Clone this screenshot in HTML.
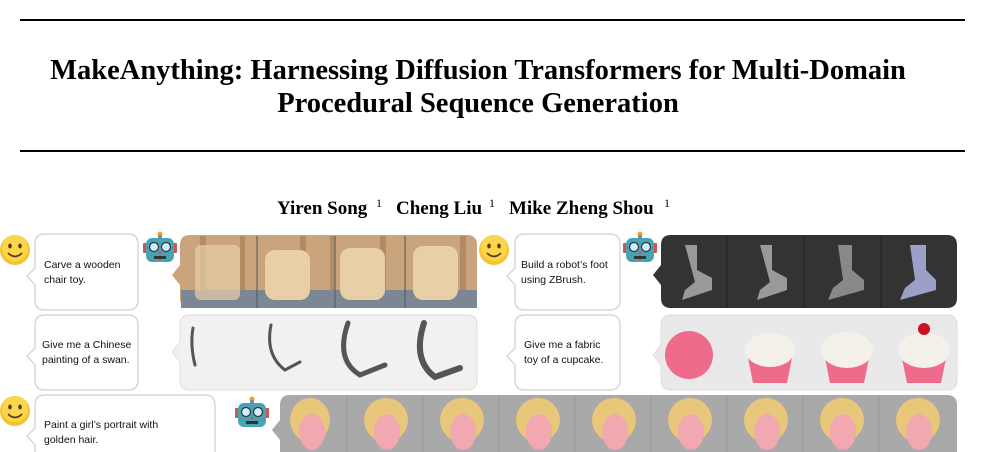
<!DOCTYPE html>
<html><head><meta charset="utf-8"><style>
body{margin:0;background:#fff;width:986px;height:452px;overflow:hidden}
svg{display:block}
.t{font-family:"Liberation Serif",serif;font-weight:bold;text-anchor:middle}
.a{font-family:"Liberation Serif",serif;font-weight:bold;font-size:19px}
.s{font-family:"Liberation Serif",serif;font-size:12px}
.b{font-family:"Liberation Sans",sans-serif;font-size:10.5px;fill:#111}
</style></head><body>
<svg width="986" height="452" viewBox="0 0 986 452" xmlns="http://www.w3.org/2000/svg">
<defs>
<g id="smile"><circle cx="0" cy="0" r="15" fill="#f6c431"/><circle cx="0" cy="-2" r="13" fill="#fbd54a"/><ellipse cx="-5" cy="-4" rx="1.8" ry="2.5" fill="#5a3a10"/><ellipse cx="5" cy="-4" rx="1.8" ry="2.5" fill="#5a3a10"/><path d="M-7 3 Q0 10 7 3" stroke="#5a3a10" stroke-width="1.6" fill="none"/></g>
<g id="robot"><circle cx="0" cy="-14" r="2.5" fill="#f0a030"/><rect x="-2" y="-13" width="4" height="4" fill="#888"/><rect x="-17" y="-5" width="4" height="10" rx="1" fill="#c55"/><rect x="13" y="-5" width="4" height="10" rx="1" fill="#c55"/><rect x="-14" y="-10" width="28" height="24" rx="6" fill="#4aa3b5"/><circle cx="-6" cy="-1" r="4.5" fill="#cfefff" stroke="#333" stroke-width="1.2"/><circle cx="6" cy="-1" r="4.5" fill="#cfefff" stroke="#333" stroke-width="1.2"/><path d="M-2 4 L2 4 L0 7Z" fill="#e45"/><rect x="-6" y="8" width="12" height="3" fill="#333"/></g>
</defs>
<rect x="20" y="19" width="945" height="2" fill="#000"/>
<rect x="20" y="150" width="945" height="2" fill="#000"/>
<text class="t" x="478" y="79" font-size="28.5">MakeAnything: Harnessing Diffusion Transformers for Multi-Domain</text>
<text class="t" x="478" y="112" font-size="28.5">Procedural Sequence Generation</text>
<text class="a" x="277" y="214">Yiren Song</text><text class="s" x="376" y="207">1</text>
<text class="a" x="396" y="214">Cheng Liu</text><text class="s" x="489" y="207">1</text>
<text class="a" x="509" y="214">Mike Zheng Shou</text><text class="s" x="664" y="207">1</text>

<g fill="#fff" stroke="#d8d8d8" stroke-width="1.5">
<path d="M45 234 H128 Q138 234 138 244 V300 Q138 310 128 310 H45 Q35 310 35 300 V285 L27 276 L35 268 V244 Q35 234 45 234Z"/>
<path d="M45 315 H128 Q138 315 138 325 V380 Q138 390 128 390 H45 Q35 390 35 380 V365 L27 356 L35 348 V325 Q35 315 45 315Z"/>
<path d="M525 234 H610 Q620 234 620 244 V300 Q620 310 610 310 H525 Q515 310 515 300 V285 L507 276 L515 268 V244 Q515 234 525 234Z"/>
<path d="M525 315 H610 Q620 315 620 325 V380 Q620 390 610 390 H525 Q515 390 515 380 V365 L507 356 L515 348 V325 Q515 315 525 315Z"/>
<path d="M45 395 H205 Q215 395 215 405 V460 H35 V445 L27 436 L35 428 V405 Q35 395 45 395Z"/>
</g>
<text class="b" x="44" y="268">Carve a wooden</text><text class="b" x="44" y="283">chair toy.</text>
<text class="b" x="42" y="348">Give me a Chinese</text><text class="b" x="42" y="363">painting of a swan.</text>
<text class="b" x="521" y="268">Build a robot’s foot</text><text class="b" x="521" y="283">using ZBrush.</text>
<text class="b" x="524" y="348">Give me a fabric</text><text class="b" x="524" y="363">toy of a cupcake.</text>
<text class="b" x="44" y="428">Paint a girl’s portrait with</text><text class="b" x="44" y="443">golden hair.</text>

<use href="#smile" x="15" y="250"/><use href="#smile" x="15" y="411"/><use href="#smile" x="494" y="250"/>
<use href="#robot" x="160" y="248"/><use href="#robot" x="640" y="248"/><use href="#robot" x="252" y="413"/>

<path d="M190 235 H467 Q477 235 477 245 V298 Q477 308 467 308 H190 Q180 308 180 298 V285 L172 275 L180 265 V245 Q180 235 190 235Z" fill="#c9a47c"/>
<g fill="#7b8795"><rect x="181" y="290" width="296" height="18"/></g>
<g fill="#a67c52" opacity=".6"><rect x="200" y="236" width="6" height="54"/><rect x="240" y="236" width="5" height="54"/><rect x="300" y="236" width="6" height="54"/><rect x="330" y="236" width="5" height="54"/><rect x="380" y="236" width="6" height="54"/><rect x="460" y="236" width="6" height="54"/></g>
<g fill="#e8cfa8"><rect x="195" y="245" width="45" height="55" rx="6" opacity=".7"/><rect x="265" y="250" width="45" height="50" rx="10"/><rect x="340" y="248" width="45" height="52" rx="10"/><rect x="413" y="246" width="45" height="54" rx="10"/></g>
<g stroke="#555" stroke-width="1"><line x1="257" y1="236" x2="257" y2="308"/><line x1="335" y1="236" x2="335" y2="308"/><line x1="405" y1="236" x2="405" y2="308"/></g>
<path d="M190 315 H467 Q477 315 477 325 V380 Q477 390 467 390 H190 Q180 390 180 380 V362 L172 352 L180 342 V325 Q180 315 190 315Z" fill="#f2f1ef" stroke="#ddd"/>
<g stroke="#555" fill="none" stroke-width="3" stroke-linecap="round"><path d="M193 328 Q190 345 195 365"/><path d="M271 325 Q265 355 285 370 L300 362"/><path d="M348 323 Q335 360 360 375 L385 365" stroke-width="5"/><path d="M424 323 Q412 360 435 377 L460 368" stroke-width="6"/></g>
<path d="M671 235 H947 Q957 235 957 245 V298 Q957 308 947 308 H671 Q661 308 661 298 V285 L653 275 L661 265 V245 Q661 235 671 235Z" fill="#333"/>
<g stroke="#222"><line x1="727" y1="235" x2="727" y2="308"/><line x1="804" y1="235" x2="804" y2="308"/><line x1="881" y1="235" x2="881" y2="308"/></g>
<g fill="#999"><path d="M685 245 h12 v25 l15 8 v12 l-30 10 l3-10 l10-8Z"/><path d="M760 245 h12 v25 l15 8 v12 l-30 10 l3-10 l10-8Z"/><path d="M838 245 h14 v25 l12 10 v10 l-36 10 l5-12 l10-8Z" fill="#888"/><path d="M910 245 h16 v25 l10 10 v10 l-36 10 l5-12 l10-8Z" fill="#9aa0c8"/></g>
<path d="M671 315 H947 Q957 315 957 325 V380 Q957 390 947 390 H671 Q661 390 661 380 V365 L653 355 L661 345 V325 Q661 315 671 315Z" fill="#e9e9ea" stroke="#ddd"/>
<g fill="#ee6b8b"><circle cx="689" cy="355" r="24"/><path d="M747 353 h46 l-6 30 h-34Z"/><path d="M824 353 h46 l-6 30 h-34Z"/><path d="M901 353 h46 l-6 30 h-34Z"/></g>
<g fill="#f4f0ea"><ellipse cx="770" cy="350" rx="25" ry="17"/><ellipse cx="847" cy="350" rx="26" ry="18"/><ellipse cx="924" cy="350" rx="26" ry="18"/></g>
<circle cx="924" cy="329" r="6" fill="#d01020"/>
<path d="M290 395 H947 Q957 395 957 405 V452 H280 V440 L272 430 L280 420 V405 Q280 395 290 395Z" fill="#a9a9a9"/>
<g stroke="#999"><line x1="347" y1="396" x2="347" y2="452"/><line x1="423" y1="396" x2="423" y2="452"/><line x1="499" y1="396" x2="499" y2="452"/><line x1="575" y1="396" x2="575" y2="452"/><line x1="651" y1="396" x2="651" y2="452"/><line x1="727" y1="396" x2="727" y2="452"/><line x1="803" y1="396" x2="803" y2="452"/><line x1="879" y1="396" x2="879" y2="452"/></g>
<g fill="#e8c77a"><ellipse cx="310" cy="420" rx="20" ry="22"/><ellipse cx="386" cy="420" rx="22" ry="22"/><ellipse cx="462" cy="420" rx="22" ry="22"/><ellipse cx="538" cy="420" rx="22" ry="22"/><ellipse cx="614" cy="420" rx="22" ry="22"/><ellipse cx="690" cy="420" rx="22" ry="22"/><ellipse cx="766" cy="420" rx="22" ry="22"/><ellipse cx="842" cy="420" rx="22" ry="22"/><ellipse cx="918" cy="420" rx="22" ry="22"/></g>
<g fill="#f2a8b0"><ellipse cx="312" cy="432" rx="13" ry="18"/><ellipse cx="387" cy="432" rx="13" ry="18"/><ellipse cx="463" cy="432" rx="13" ry="18"/><ellipse cx="539" cy="432" rx="13" ry="18"/><ellipse cx="615" cy="432" rx="13" ry="18"/><ellipse cx="691" cy="432" rx="13" ry="18"/><ellipse cx="767" cy="432" rx="13" ry="18"/><ellipse cx="843" cy="432" rx="13" ry="18"/><ellipse cx="919" cy="432" rx="13" ry="18"/></g>
</svg>
</body></html>
